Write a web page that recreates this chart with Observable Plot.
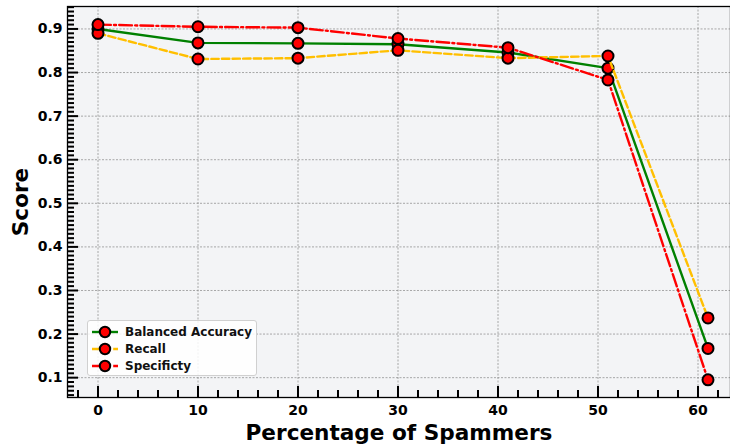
<!DOCTYPE html>
<html>
<head>
<meta charset="utf-8">
<script src="https://cdn.jsdelivr.net/npm/d3@7"></script>
<script src="https://cdn.jsdelivr.net/npm/@observablehq/plot@0.6"></script>
<style>
  html, body { margin: 0; padding: 0; background: #fff; }
  #wrap { position: relative; width: 730px; height: 447px; font-family: "DejaVu Sans", sans-serif; }
  #legend { position: absolute; left: 87px; top: 320px; width: 170px; height: 56px;
    background: rgba(255,255,255,0.85); border: 1px solid #d0d0d0; border-radius: 3px; box-sizing: border-box;
    padding-top: 2px; }
  .row { display: flex; align-items: center; height: 17px; font-weight: bold; font-size: 12px; color: #111; }
  .row svg { margin-left: 3px; margin-right: 6px; }
</style>
</head>
<body>
<div id="wrap"><div id="chart"></div><div id="legend"></div></div>
<script>
// Data
const spammers = [0, 10, 20, 30, 41, 51, 61];
const balancedAccuracy = [0.900, 0.868, 0.867, 0.865, 0.846, 0.810, 0.167];
const recall = [0.890, 0.831, 0.833, 0.851, 0.833, 0.838, 0.237];
const specificity = [0.910, 0.905, 0.903, 0.878, 0.857, 0.783, 0.095];

const seriesNames = ["Balanced Accuracy", "Recall", "Specificty"];
const seriesColors = ["#008000", "#ffbf00", "#ff0000"];
const seriesDash = [null, "7.4,3.2", "12.8,3.2,2,3.2"];
const seriesValues = [balancedAccuracy, recall, specificity];

const xMajorTicks = [0, 10, 20, 30, 40, 50, 60];
const xMinorTicks = d3.range(-2, 63, 2).filter(v => v % 10 !== 0);
const yMajorTicks = [0.1, 0.2, 0.3, 0.4, 0.5, 0.6, 0.7, 0.8, 0.9];
const yMinorTicks = d3.range(6, 96, 1).filter(v => v % 10 !== 0).map(v => v / 100);

const font = {fontFamily: "DejaVu Sans", fontWeight: "bold"};

const marks = [
  Plot.frame({fill: "#f3f4f6", stroke: null}),
  Plot.gridX(xMajorTicks, {stroke: "#888", strokeOpacity: 0.9, strokeDasharray: "2,1.5", strokeWidth: 0.8}),
  Plot.gridY(yMajorTicks, {stroke: "#888", strokeOpacity: 0.9, strokeDasharray: "2,1.5", strokeWidth: 0.8}),
];
seriesNames.forEach((name, i) => {
  const data = spammers.map((x, j) => ({x, y: seriesValues[i][j]}));
  marks.push(Plot.line(data, {x: "x", y: "y", stroke: seriesColors[i], strokeWidth: 2.4, strokeDasharray: seriesDash[i]}));
  marks.push(Plot.dot(data, {x: "x", y: "y", r: 5.5, fill: "#ff0000", stroke: "#000", strokeWidth: 2}));
});
marks.push(
  Plot.frame({stroke: "#000", strokeWidth: 1.3}),
  Plot.axisX(xMajorTicks, {tickSize: 0, tickPadding: 8, fontSize: 14, ...font, label: "Percentage of Spammers", labelAnchor: "center", labelOffset: 42, labelArrow: "none"}),
  Plot.axisX(xMajorTicks, {tickSize: -11, strokeWidth: 2, tickFormat: () => "", label: null}),
  Plot.axisX(xMinorTicks, {tickSize: -7, strokeWidth: 2, tickFormat: () => "", label: null}),
  Plot.axisY(yMajorTicks, {tickSize: 0, tickPadding: 5, fontSize: 14, ...font, tickFormat: d3.format(".1f"), label: "Score", labelAnchor: "center", labelOffset: 55, labelArrow: "none"}),
  Plot.axisY(yMajorTicks, {tickSize: -11, strokeWidth: 2, tickFormat: () => "", label: null}),
  Plot.axisY(yMinorTicks, {tickSize: -7, strokeWidth: 2, tickFormat: () => "", label: null})
);

const chart = Plot.plot({
  width: 730,
  height: 447,
  marginLeft: 67,
  marginRight: 0,
  marginTop: 6,
  marginBottom: 50,
  style: {fontFamily: "DejaVu Sans", color: "#000", background: "#fff", overflow: "visible"},
  x: {domain: [-3.05, 63.25]},
  y: {domain: [0.0545, 0.9515]},
  marks
});
chart.querySelectorAll("g[aria-label$='axis label'] text").forEach(t => {
  t.setAttribute("font-size", "21.6");
});
document.getElementById("chart").appendChild(chart);

// Legend
const legend = document.getElementById("legend");
seriesNames.forEach((name, i) => {
  const row = document.createElement("div");
  row.className = "row";
  const ns = "http://www.w3.org/2000/svg";
  const svg = document.createElementNS(ns, "svg");
  svg.setAttribute("width", "28"); svg.setAttribute("height", "14");
  const ln = document.createElementNS(ns, "line");
  ln.setAttribute("x1", "1"); ln.setAttribute("x2", "27"); ln.setAttribute("y1", "7"); ln.setAttribute("y2", "7");
  ln.setAttribute("stroke", seriesColors[i]); ln.setAttribute("stroke-width", "2.4");
  if (seriesDash[i]) ln.setAttribute("stroke-dasharray", seriesDash[i]);
  const c = document.createElementNS(ns, "circle");
  c.setAttribute("cx", "14"); c.setAttribute("cy", "7"); c.setAttribute("r", "5.2");
  c.setAttribute("fill", "#ff0000"); c.setAttribute("stroke", "#000"); c.setAttribute("stroke-width", "2");
  svg.appendChild(ln); svg.appendChild(c);
  row.appendChild(svg);
  const span = document.createElement("span");
  span.textContent = name;
  row.appendChild(span);
  legend.appendChild(row);
});
</script>
</body>
</html>
